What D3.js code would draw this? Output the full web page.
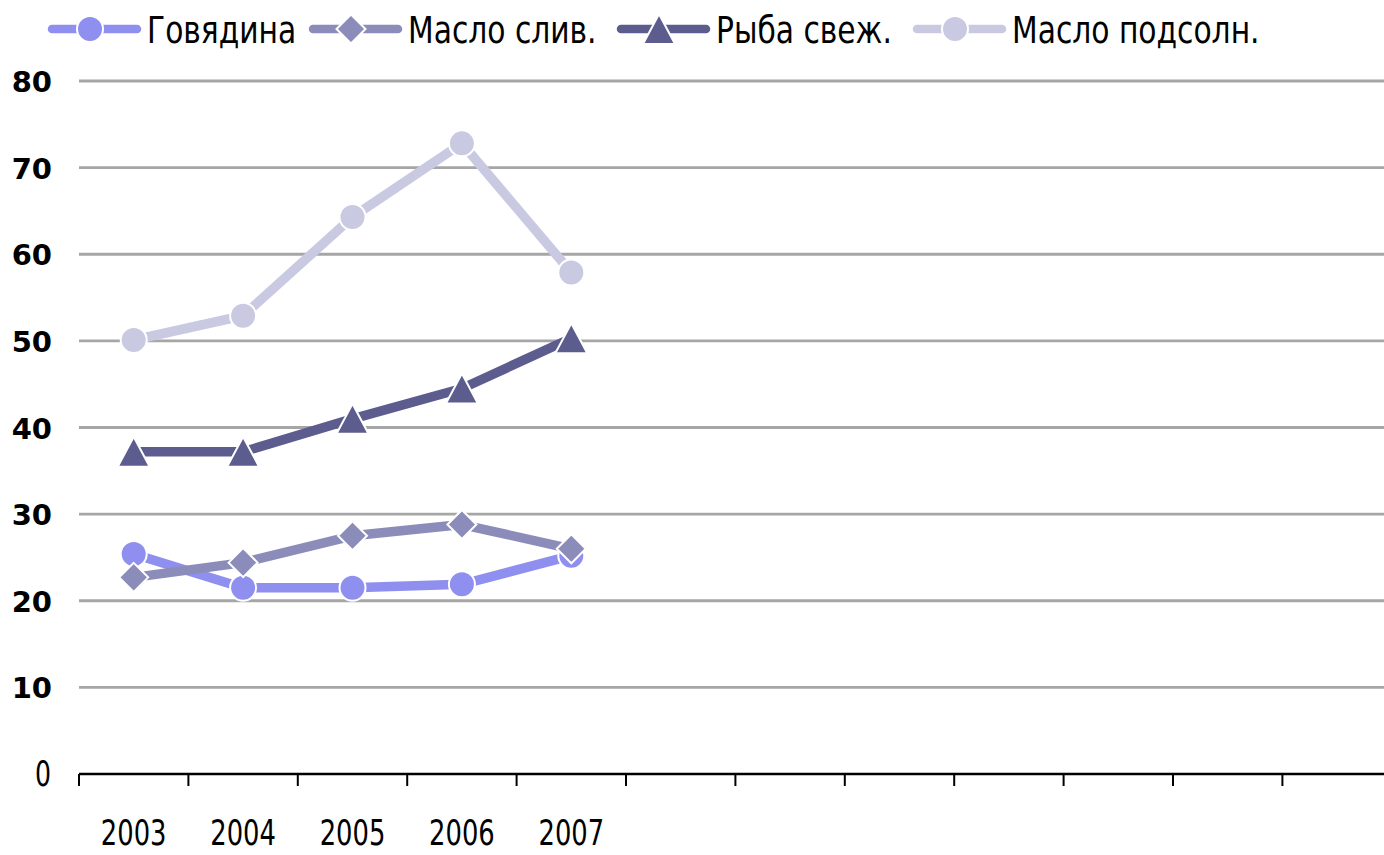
<!DOCTYPE html>
<html><head><meta charset="utf-8">
<script src="https://cdn.jsdelivr.net/npm/d3@7"></script>
<style>
html,body{margin:0;padding:0;background:#fff;}
svg{display:block;}
</style></head>
<body>
<script>
const categories = ["2003","2004","2005","2006","2007","","","","","","",""];
const seriesNames = ["Говядина","Масло слив.","Рыба свеж.","Масло подсолн."];
const beef = [25.4, 21.5, 21.5, 21.9, 25.2];
const butter = [22.7, 24.4, 27.5, 28.8, 26.0];
const fish = [37.2, 37.2, 41.0, 44.5, 50.3];
const sunflowerOil = [50.1, 52.9, 64.3, 72.8, 57.9];
const yTicks = [0,10,20,30,40,50,60,70,80];

const colors = ["#8f8ff0","#8c8cba","#5c5c8e","#c9c9e2"];
const shapes = ["circle","diamond","triangle","circle"];
const series = [beef, butter, fish, sunflowerOil];

const W = 1384, H = 855;
const svg = d3.select("body").append("svg").attr("width", W).attr("height", H);
const condFont = "'DejaVu Sans Condensed','DejaVu Sans',sans-serif";

const x = d3.scaleBand().domain(categories.map((c,i)=>i)).range([79, 79 + 12*109.4]);
const y = d3.scaleLinear().domain([0,80]).range([774, 81]);

// gridlines
svg.append("g").selectAll("line").data(yTicks.filter(t=>t>0)).join("line")
  .attr("x1", 79).attr("x2", W).attr("y1", d=>y(d)).attr("y2", d=>y(d))
  .attr("stroke", "#a6a6a6").attr("stroke-width", 2.8);

// y labels
const yl = svg.append("g");
yTicks.forEach(d=>{
  if(d===0){
    yl.append("text").attr("transform",`translate(51,${y(d)+12}) scale(0.8,1)`)
      .attr("text-anchor","end").attr("font-family",condFont).attr("font-size",35)
      .attr("fill","#000").text(d);
  } else {
    yl.append("text").attr("x",52).attr("y",y(d)+11).attr("text-anchor","end")
      .attr("font-family","'DejaVu Sans',sans-serif").attr("font-weight","bold")
      .attr("font-size",29).attr("fill","#000").text(d);
  }
});

// x axis
const ax = svg.append("g").attr("transform","translate(0,774)");
ax.append("line").attr("x1",79).attr("x2",W).attr("y1",0).attr("y2",0)
  .attr("stroke","#000").attr("stroke-width",2.5);
const bounds = d3.range(13).map(i => 79 + i*x.step());
ax.selectAll("line.tk").data(bounds).join("line").attr("class","tk")
  .attr("x1",d=>d).attr("x2",d=>d).attr("y1",0).attr("y2",12)
  .attr("stroke","#000").attr("stroke-width",2);
ax.selectAll("text.xl").data(categories.map((c,i)=>i).filter(i=>categories[i])).join("text").attr("class","xl")
  .attr("transform", i=>`translate(${x(i)+x.bandwidth()/2},71) scale(0.82,1)`)
  .attr("text-anchor","middle")
  .attr("font-family",condFont)
  .attr("font-size",35).attr("fill","#000")
  .text(i=>categories[i]);

function marker(g, shape, color, cx, cy){
  if(shape==="circle"){
    g.append("circle").attr("cx",cx).attr("cy",cy).attr("r",13)
      .attr("fill",color).attr("stroke","#fff").attr("stroke-width",2);
  } else if(shape==="diamond"){
    const r=14.5;
    g.append("path").attr("d",`M${cx},${cy-r}L${cx+r},${cy}L${cx},${cy+r}L${cx-r},${cy}Z`)
      .attr("fill",color).attr("stroke","#fff").attr("stroke-width",2);
  } else {
    const h=30, w=32;
    g.append("path").attr("d",`M${cx},${cy-h/2}L${cx+w/2},${cy+h/2}L${cx-w/2},${cy+h/2}Z`)
      .attr("fill",color).attr("stroke","#fff").attr("stroke-width",2);
  }
}

const line = d3.line().x((d,i)=>x(i)+x.bandwidth()/2).y(d=>y(d));
series.forEach((s,k)=>{
  const g = svg.append("g");
  g.append("path").datum(s).attr("d",line).attr("fill","none")
    .attr("stroke",colors[k]).attr("stroke-width",9.5).attr("stroke-linejoin","round");
  s.forEach((v,i)=>marker(g, shapes[k], colors[k], x(i)+x.bandwidth()/2, y(v)));
});

// legend
const legX = [147, 408, 716, 1012];
const leg = svg.append("g");
seriesNames.forEach((n,k)=>{
  const tx = legX[k];
  leg.append("line").attr("x1",tx-95).attr("x2",tx-10).attr("y1",29).attr("y2",29)
    .attr("stroke",colors[k]).attr("stroke-width",8.5).attr("stroke-linecap","round");
  marker(leg, shapes[k], colors[k], tx-57, 29);
  leg.append("text").attr("transform",`translate(${tx},43) scale(0.87,1)`)
    .attr("font-family",condFont)
    .attr("font-size",38).attr("fill","#000").text(n);
});
</script>
</body></html>
